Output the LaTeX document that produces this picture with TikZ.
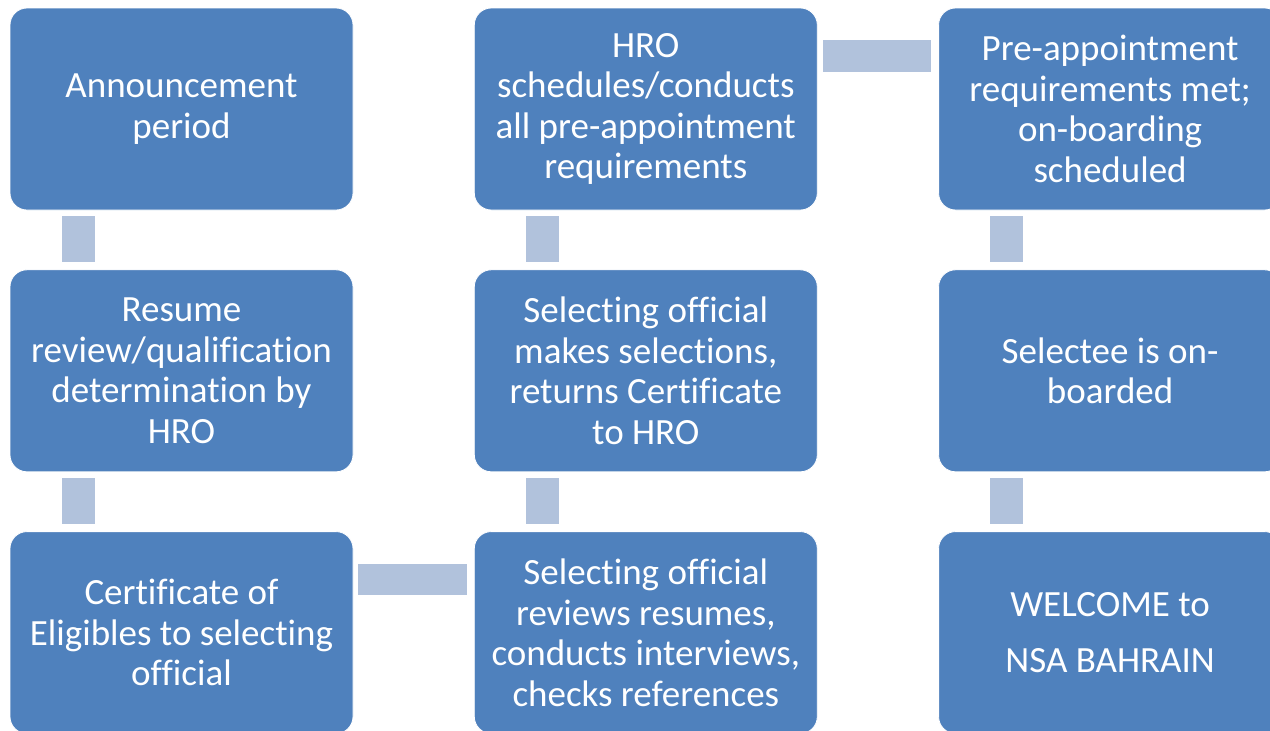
\documentclass[tikz,border=0pt]{standalone}
\usepackage{fontspec}
\setmainfont{Carlito}[Ligatures=CommonOff]
\usetikzlibrary{positioning}
\definecolor{stageblue}{HTML}{4F81BD}
\definecolor{linkblue}{HTML}{B1C2DC}
\tikzset{
	stage/.style = {rectangle, rounded corners=17pt, fill=stageblue, draw=white, line width=0.8pt,
		minimum width=343pt, minimum height=202pt, inner sep=0pt, align=center, text=white,
		font=\fontsize{37}{40.5}\selectfont},
	link/.style = {fill=linkblue}
}

\begin{document}
\begin{tikzpicture}[node distance=59pt and 120.5pt]
		\useasboundingbox (0,0) rectangle (1270pt,-731pt);
		\clip (0,0) rectangle (1270pt,-731pt);
		% first column, top to bottom
		\node [stage] (announce) at (181.5pt,-109pt) {Announcement\\period};
		\node [stage, below=of announce] (review) {Resume\\review/qualification\\determination by\\HRO};
		\node [stage, below=of review] (cert) {Certificate of\\Eligibles to selecting\\official};
		% second column, bottom to top
		\node [stage, right=of cert] (interview) {Selecting official\\reviews resumes,\\conducts interviews,\\checks references};
		\node [stage, above=of interview] (select) {Selecting official\\makes selections,\\returns Certificate\\to HRO};
		\node [stage, above=of select] (preappt) {HRO\\schedules/conducts\\all pre-appointment\\requirements};
		% third column, top to bottom
		\node [stage, right=of preappt] (met) {Pre-appointment\\requirements met;\\on-boarding\\scheduled};
		\node [stage, below=of met] (onboard) {Selectee is on-\\boarded};
		\node [stage, below=of onboard] (welcome) {WELCOME to\\[16pt]NSA BAHRAIN};

		% connectors
		\fill [link] ([xshift=52pt,yshift=-6pt]announce.south west) rectangle ([xshift=85pt,yshift=7pt]review.north west);
		\fill [link] ([xshift=52pt,yshift=-6pt]review.south west) rectangle ([xshift=85pt,yshift=7pt]cert.north west);
		\fill [link] ([xshift=5pt,yshift=-33pt]cert.north east) rectangle ([xshift=-7pt,yshift=-64pt]interview.north west);
		\fill [link] ([xshift=52pt,yshift=-6pt]select.south west) rectangle ([xshift=85pt,yshift=7pt]interview.north west);
		\fill [link] ([xshift=52pt,yshift=-6pt]preappt.south west) rectangle ([xshift=85pt,yshift=7pt]select.north west);
		\fill [link] ([xshift=5pt,yshift=-32pt]preappt.north east) rectangle ([xshift=-7pt,yshift=-64pt]met.north west);
		\fill [link] ([xshift=52pt,yshift=-6pt]met.south west) rectangle ([xshift=85pt,yshift=7pt]onboard.north west);
		\fill [link] ([xshift=52pt,yshift=-6pt]onboard.south west) rectangle ([xshift=85pt,yshift=7pt]welcome.north west);
\end{tikzpicture}
\end{document}
